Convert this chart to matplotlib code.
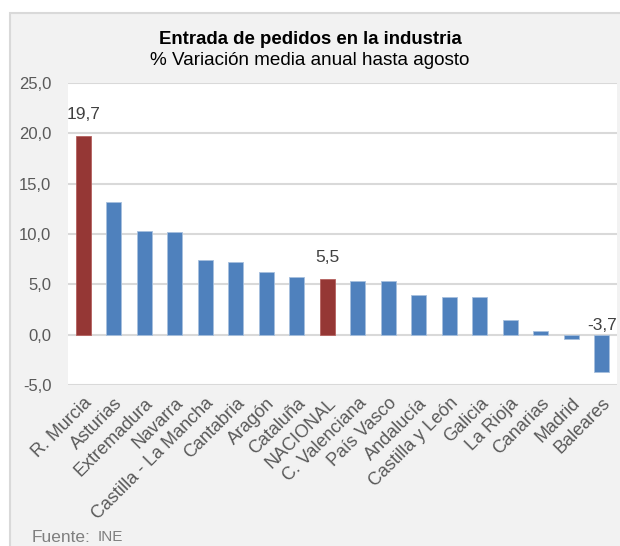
import matplotlib.pyplot as plt
from matplotlib.patches import Rectangle

plt.rcParams['font.family'] = ['Liberation Sans', 'DejaVu Sans']

# Datos
regiones = ['R. Murcia', 'Asturias', 'Extremadura', 'Navarra', 'Castilla - La Mancha',
            'Cantabria', 'Aragón', 'Cataluña', 'NACIONAL', 'C. Valenciana', 'País Vasco',
            'Andalucía', 'Castilla y León', 'Galicia', 'La Rioja', 'Canarias', 'Madrid',
            'Baleares']
variacion = [19.7, 13.2, 10.3, 10.2, 7.4, 7.2, 6.2, 5.7, 5.5, 5.3, 5.3,
             3.9, 3.7, 3.7, 1.5, 0.4, -0.4, -3.7]
destacadas = ['R. Murcia', 'NACIONAL']
etiquetadas = ['R. Murcia', 'NACIONAL', 'Baleares']
y_ticks = [-5, 0, 5, 10, 15, 20, 25]

azul = '#4F81BD'
rojo = '#953735'
gris_texto = '#595959'

fig = plt.figure(figsize=(6.2, 5.46), dpi=100)
fig.patch.set_facecolor('white')

# fondo gris del área del gráfico
fig.patches.append(Rectangle((10 / 620, -0.01), 1.0, 1 - 13 / 546 + 0.01,
                             transform=fig.transFigure, facecolor='#F2F2F2',
                             edgecolor='#D9D9D9', linewidth=1.5, zorder=-1))

ax = fig.add_axes([68 / 620, 1 - 385 / 546, (617 - 68) / 620, (385 - 83) / 546])
ax.set_zorder(2)
ax.set_facecolor('white')

x = range(len(regiones))
colores = [rojo if r in destacadas else azul for r in regiones]
bordes = ['#B5615F' if r in destacadas else '#A7C0DE' for r in regiones]
ax.bar(x, variacion, width=0.5, color=colores, edgecolor=bordes, linewidth=0.6, zorder=3)

ax.set_ylim(-5, 25)
ax.set_xlim(-0.5, len(regiones) - 0.5)
ax.set_yticks(y_ticks)
ax.set_yticklabels([f'{v:.1f}'.replace('.', ',') for v in y_ticks], color=gris_texto, fontsize=12)
ax.grid(axis='y', color='#D9D9D9', linewidth=1.5, zorder=0)
for s in ax.spines.values():
    s.set_visible(False)
ax.tick_params(axis='both', length=0)
ax.tick_params(axis='y', pad=12)
ax.tick_params(axis='x', pad=7)

ax.set_xticks(list(x))
ax.set_xticklabels(regiones, rotation=45, ha='right', rotation_mode='anchor',
                   color=gris_texto, fontsize=13)

# etiquetas de valores
for i, (r, v) in enumerate(zip(regiones, variacion)):
    if r in etiquetadas:
        if v >= 0:
            pos, dy = v, 10
        else:
            pos, dy = 0, 1
        ax.annotate(f'{v:.1f}'.replace('.', ','), (i, pos), xytext=(0, dy),
                    textcoords='offset points', ha='center', va='bottom',
                    fontsize=12.5, color='#404040')

fig.text(0.5, 1 - 39 / 546, 'Entrada de pedidos en la industria', ha='center',
         va='center', fontsize=13.4, fontweight='bold', color='black')
fig.text(0.5, 1 - 60 / 546, '% Variación media anual hasta agosto', ha='center',
         va='center', fontsize=13.6, color='black')
fig.text(32 / 620, 1 - 537 / 546, 'Fuente:', ha='left', va='center',
         fontsize=12.5, color='#7F7F7F')
fig.text(98 / 620, 1 - 537 / 546, 'INE', ha='left', va='center',
         fontsize=11, color='#7F7F7F')

fig.savefig('out.png', dpi=100)
